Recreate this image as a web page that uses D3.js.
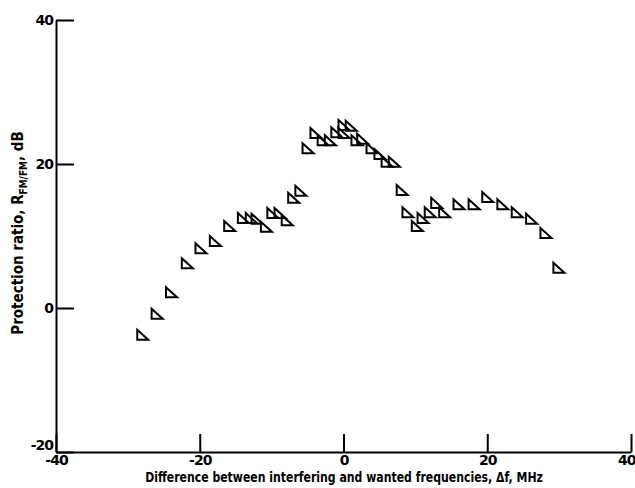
<!DOCTYPE html>
<html>
<head>
<meta charset="utf-8">
<script src="https://cdn.jsdelivr.net/npm/d3@7"></script>
<style>
  body { margin: 0; background: #fff; }
  svg text { font-family: "DejaVu Sans", sans-serif; fill: #000; }
</style>
</head>
<body>
<div id="container"></div>
<script>
// frequency offset (MHz) and protection ratio (dB)
var delta_f = [-28, -26, -24, -21.8, -19.9, -17.9, -15.9, -14, -12.9, -12.1, -10.8, -9.9, -8.9, -7.9, -7, -6,
	       -5, -3.9, -2.9, -1.9, -1, 0, 0, 1, 1.8, 2.6, 3.9, 5, 6, 7,
	       8.1, 8.9, 10.2, 11, 12, 12.9, 14, 16, 18.1, 20, 22.1, 24.1, 26.1, 28.1, 29.9];
var ratio = [-3.7, -0.8, 2.2, 6.2, 8.3, 9.3, 11.4, 12.5, 12.5, 12.4, 11.3, 13.2, 13.2, 12.2, 15.3, 16.3,
	     22.2, 24.3, 23.3, 23.3, 24.4, 25.4, 24.3, 25.3, 23.3, 23.5, 22.2, 21.4, 20.3, 20.3,
	     16.4, 13.3, 11.4, 12.5, 13.3, 14.6, 13.3, 14.4, 14.4, 15.4, 14.4, 13.3, 12.4, 10.4, 5.6];
var x_ticks = [-40, -20, 0, 20, 40];
var y_ticks = [-20, 0, 20, 40];

var init = function(){
    var width = 635, height = 488;
    var svg = d3.select("#container").append("svg")
	.attr("width", width)
	.attr("height", height);

    var x = d3.scaleLinear().domain([-40, 40]).range([56, 631]);
    var y = d3.scaleLinear().domain([-20, 40]).range([452, 20]);

    var fmt = function(d){ return d < 0 ? "-" + Math.abs(d) : d; };

    // axes, ticks pointing into the plot
    var xAxis = d3.axisBottom(x).tickValues(x_ticks).tickSizeInner(-18).tickSizeOuter(0).tickPadding(2).tickFormat(fmt);
    var yAxis = d3.axisLeft(y).tickValues(y_ticks).tickSizeInner(-18).tickSizeOuter(0).tickPadding(3).tickFormat(fmt);

    var gx = svg.append("g").attr("transform", "translate(0," + y(-20) + ")").call(xAxis);
    var gy = svg.append("g").attr("transform", "translate(" + x(-40) + ",0)").call(yAxis);

    [gx, gy].forEach(function(g){
	g.select(".domain").attr("stroke", "#000").attr("stroke-width", 2);
	g.selectAll(".tick line").attr("stroke", "#000").attr("stroke-width", 2);
	g.selectAll(".tick text")
	    .style("font-family", "'DejaVu Sans', sans-serif")
	    .style("font-weight", "bold")
	    .attr("font-size", 14)
	    .attr("letter-spacing", -1);
    });
    gx.selectAll(".tick text").attr("dy", "0.75em");
    gy.selectAll(".tick text").attr("dy", "0.35em");
    // corner labels: keep -20 above -40, and the right 40 inside the page
    gy.selectAll(".tick").filter(function(d){ return d == -20; }).select("text").attr("dy", "-0.15em");
    gx.selectAll(".tick").filter(function(d){ return d == 40; }).select("text")
	.attr("text-anchor", "end").attr("x", 4);

    // right-angled triangle marker, corner at bottom left
    var tri = function(cx, cy){
	var p = d3.path();
	p.moveTo(cx - 5, cy - 5);
	p.lineTo(cx - 5, cy + 5);
	p.lineTo(cx + 6, cy + 5);
	p.closePath();
	return p.toString();
    };

    svg.append("g").selectAll("path.pt")
	.data(delta_f)
	.enter().append("path")
	.classed("pt", true)
	.attr("d", function(d, i){ return tri(x(d), y(ratio[i])); })
	.attr("fill", "none")
	.attr("stroke", "#000")
	.attr("stroke-width", 2)
	.attr("stroke-linejoin", "miter");

    // axis titles (squeezed sideways, the original type is a condensed face)
    svg.append("text")
	.attr("transform", "translate(344,482) scale(0.78,1)")
	.attr("text-anchor", "middle")
	.attr("font-size", 14)
	.style("font-weight", "bold")
	.text("Difference between interfering and wanted frequencies, \u0394f, MHz");

    var yl = svg.append("text")
	.attr("transform", "translate(23,233) rotate(-90) scale(0.9,1)")
	.attr("text-anchor", "middle")
	.attr("font-size", 15)
	.style("font-weight", "bold");
    yl.append("tspan").text("Protection ratio, R");
    yl.append("tspan").attr("dy", 4).attr("font-size", 10).text("FM/FM");
    yl.append("tspan").attr("dy", -4).text(", dB");
};

init();
</script>
</body>
</html>
